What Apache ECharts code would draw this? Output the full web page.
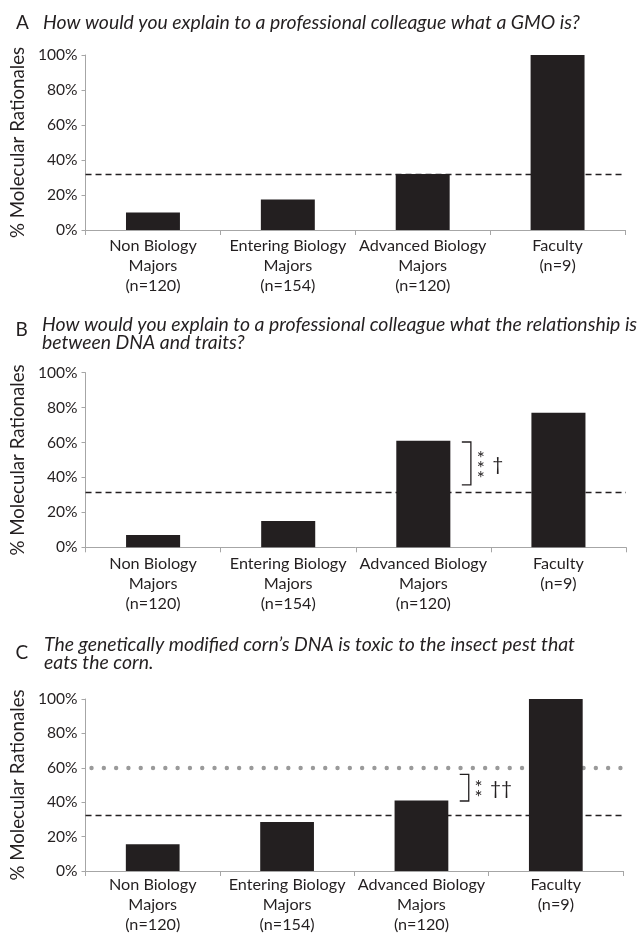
<!DOCTYPE html>
<html>
<head>
<meta charset="utf-8">
<script src="https://cdn.jsdelivr.net/npm/echarts@6/dist/echarts.min.js"></script>
<style>
  html, body { margin: 0; padding: 0; background: #ffffff; }
  #chart { width: 641px; height: 935px; }
</style>
</head>
<body>
<div id="chart"></div>
<script>
// Respondent groups and their sample sizes
const groupNames = ['Non Biology\nMajors', 'Entering Biology\nMajors', 'Advanced Biology\nMajors', 'Faculty'];
const groupSizes = [120, 154, 120, 9];

// Y-axis ticks (percent)
const yTicks = [0, 20, 40, 60, 80, 100];

// Panel letters and prompts
const panelLetters = ['A', 'B', 'C'];
const questionA = 'How would you explain to a professional colleague what a GMO is?';
const questionB = 'How would you explain to a professional colleague what the relationship is\nbetween DNA and traits?';
const questionC = 'The genetically modified corn\u2019s DNA is toxic to the insect pest that\neats the corn.';

// % molecular rationales per group
const valuesA = [10, 17.5, 32, 100];
const valuesB = [7, 15, 61, 77];
const valuesC = [15.5, 28.5, 41, 100];

// Reference lines
const baselineA = 32;
const baselineB = 31.5;
const baselineC = 32.5;
const dottedC = 60;

// Significance brackets: [category index, low %, high %]
const bracketB = [2, 35.7, 60.3];
const bracketC = [2, 40.7, 56.2];
const starsB = '*\n*\n*';
const daggersB = '\u2020';
const starsC = '*\n*';
const daggersC = '\u2020\u2020';

const FONT = 'Lato';
const TEXT = '#231f20';
const AXIS = '#a6a6a6';
const BAR = '#231f20';

const categoryLabels = groupNames.map((n, i) => n + '\n(n=' + groupSizes[i] + ')');

const grids = [
  { left: 81, top: 55, width: 544, height: 175 },
  { left: 82, top: 372.7, width: 544, height: 174.6 },
  { left: 80, top: 699, width: 543, height: 175 }
];
const labelMargins = [5.5, 6, 4];

function xAxis(i) {
  return {
    type: 'category',
    gridIndex: i,
    data: categoryLabels,
    axisLine: { lineStyle: { color: AXIS, width: 1 } },
    axisTick: { show: true, length: 5, lineStyle: { color: AXIS } },
    axisLabel: {
      color: TEXT, fontFamily: FONT, fontSize: 16.2, lineHeight: 20,
      margin: labelMargins[i], interval: 0
    }
  };
}

function yAxis(i) {
  return {
    type: 'value',
    gridIndex: i,
    min: yTicks[0],
    max: yTicks[yTicks.length - 1],
    interval: yTicks[1] - yTicks[0],
    name: '% Molecular Rationales',
    nameLocation: 'middle',
    nameGap: 56.5,
    nameTextStyle: { color: TEXT, fontFamily: FONT, fontSize: 18.7 },
    axisLine: { show: true, lineStyle: { color: AXIS, width: 1 } },
    axisTick: { show: true, length: 4, lineStyle: { color: AXIS } },
    splitLine: { show: false },
    axisLabel: { color: TEXT, fontFamily: FONT, fontSize: 15.6, margin: 8, formatter: '{value}%' }
  };
}

const dashedStyle = { color: TEXT, width: 1.3, type: [6, 4] };
const dottedStyle = { color: '#9a9a9a', width: 4.4, type: [0, 12.3], cap: 'round', dashOffset: -6 };

function barSeries(i, values, lines) {
  return {
    type: 'bar',
    xAxisIndex: i,
    yAxisIndex: i,
    data: values,
    barWidth: '40%',
    itemStyle: { color: BAR },
    z: 2,
    markLine: {
      z: 1,
      silent: true,
      symbol: 'none',
      label: { show: false },
      data: lines
    }
  };
}

function bracketSeries(i, bracket, stars, daggers) {
  return {
    type: 'custom',
    xAxisIndex: i,
    yAxisIndex: i,
    z: 3,
    silent: true,
    data: [bracket],
    encode: { x: 0, y: [1, 2] },
    renderItem: function (params, api) {
      const cat = api.value(0);
      const lo = api.coord([cat, api.value(1)]);
      const hi = api.coord([cat, api.value(2)]);
      const w = api.size([1, 0])[0];
      const xl = lo[0] + 0.285 * w;
      const xr = lo[0] + 0.352 * w;
      const mid = (lo[1] + hi[1]) / 2;
      return {
        type: 'group',
        children: [
          {
            type: 'polyline',
            shape: { points: [[xl, hi[1]], [xr, hi[1]], [xr, lo[1]], [xl, lo[1]]] },
            style: { stroke: TEXT, lineWidth: 1.3, fill: null }
          },
          {
            type: 'text',
            style: {
              text: stars, x: lo[0] + 0.425 * w, y: mid + 5,
              align: 'center', verticalAlign: 'middle',
              font: '19px ' + FONT, lineHeight: 10, fill: TEXT
            }
          },
          {
            type: 'text',
            style: {
              text: daggers, x: lo[0] + 0.51 * w, y: mid + 1,
              align: 'left', verticalAlign: 'middle',
              font: '19px ' + FONT, fill: TEXT
            }
          }
        ]
      };
    }
  };
}

const letterLeft = [16, 15.5, 15.5];
const letterTop = [13.5, 320.5, 643.5];
const questionLeft = [43, 42, 44];
const questionTop = [14, 316, 636];

const titles = [];
[questionA, questionB, questionC].forEach((q, i) => {
  titles.push({
    text: panelLetters[i], left: letterLeft[i], top: letterTop[i], padding: 0,
    textStyle: { fontFamily: FONT, fontSize: 19, fontWeight: 'normal', color: TEXT, lineHeight: 19 }
  });
  titles.push({
    text: q, left: questionLeft[i], top: questionTop[i], padding: 0,
    textStyle: { fontFamily: FONT, fontSize: 19.4, fontStyle: 'italic', fontWeight: 'normal', color: TEXT, lineHeight: 18 }
  });
});

const option = {
  animation: false,
  backgroundColor: '#ffffff',
  title: titles,
  grid: grids,
  xAxis: [xAxis(0), xAxis(1), xAxis(2)],
  yAxis: [yAxis(0), yAxis(1), yAxis(2)],
  series: [
    barSeries(0, valuesA, [{ yAxis: baselineA, lineStyle: dashedStyle }]),
    barSeries(1, valuesB, [{ yAxis: baselineB, lineStyle: dashedStyle }]),
    barSeries(2, valuesC, [
      { yAxis: dottedC, lineStyle: dottedStyle },
      { yAxis: baselineC, lineStyle: dashedStyle }
    ]),
    bracketSeries(1, bracketB, starsB, daggersB),
    bracketSeries(2, bracketC, starsC, daggersC)
  ]
};

const chart = echarts.init(document.getElementById('chart'), null, { renderer: 'canvas' });
chart.setOption(option);
</script>
</body>
</html>
